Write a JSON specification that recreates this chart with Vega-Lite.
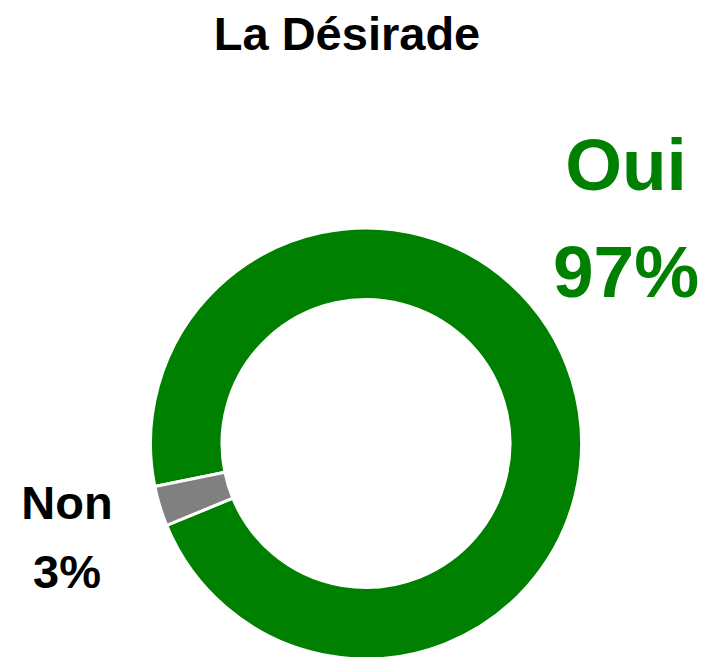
{
  "$schema": "https://vega.github.io/schema/vega-lite/v6.json",
  "autosize": "none",
  "padding": {"left": 21, "top": 230, "right": 0, "bottom": 0},
  "width": 690,
  "height": 427,
  "background": "white",
  "data": {
    "values": [
      {"answer": "Oui", "share": 0.97},
      {"answer": "Non", "share": 0.03}
    ]
  },
  "config": {"view": {"stroke": null}},
  "layer": [
    {
      "mark": {"type": "arc", "innerRadius": 144, "outerRadius": 215.5, "stroke": "white", "strokeWidth": 3},
      "encoding": {
        "theta": {"field": "share", "type": "quantitative", "stack": true, "scale": {"range": [4.323, 10.606]}},
        "color": {"field": "answer", "type": "nominal", "scale": {"domain": ["Oui", "Non"], "range": ["#008000", "#808080"]}, "legend": null},
        "order": {"field": "answer", "sort": "ascending"}
      }
    },
    {
      "transform": [{"filter": "datum.answer == 'Oui'"}],
      "mark": {"type": "text", "text": "La Désirade", "font": "Liberation Sans", "fontWeight": "bold", "fontSize": 47, "color": "black", "align": "center", "baseline": "alphabetic", "dx": -19, "dy": -394}
    },
    {
      "transform": [{"filter": "datum.answer == 'Oui'"}],
      "mark": {"type": "text", "font": "Liberation Sans", "fontWeight": "bold", "fontSize": 73, "color": "#008000", "align": "center", "baseline": "alphabetic", "dx": 260, "dy": -253.5},
      "encoding": {"text": {"field": "answer", "type": "nominal"}}
    },
    {
      "transform": [{"filter": "datum.answer == 'Oui'"}],
      "mark": {"type": "text", "font": "Liberation Sans", "fontWeight": "bold", "fontSize": 73, "color": "#008000", "align": "center", "baseline": "alphabetic", "dx": 260, "dy": -146.5},
      "encoding": {"text": {"field": "share", "type": "quantitative", "format": ".0%"}}
    },
    {
      "transform": [{"filter": "datum.answer == 'Non'"}],
      "mark": {"type": "text", "font": "Liberation Sans", "fontWeight": "bold", "fontSize": 47, "color": "black", "align": "center", "baseline": "alphabetic", "dx": -299, "dy": 75},
      "encoding": {"text": {"field": "answer", "type": "nominal"}}
    },
    {
      "transform": [{"filter": "datum.answer == 'Non'"}],
      "mark": {"type": "text", "font": "Liberation Sans", "fontWeight": "bold", "fontSize": 47, "color": "black", "align": "center", "baseline": "alphabetic", "dx": -299, "dy": 144.5},
      "encoding": {"text": {"field": "share", "type": "quantitative", "format": ".0%"}}
    }
  ]
}
